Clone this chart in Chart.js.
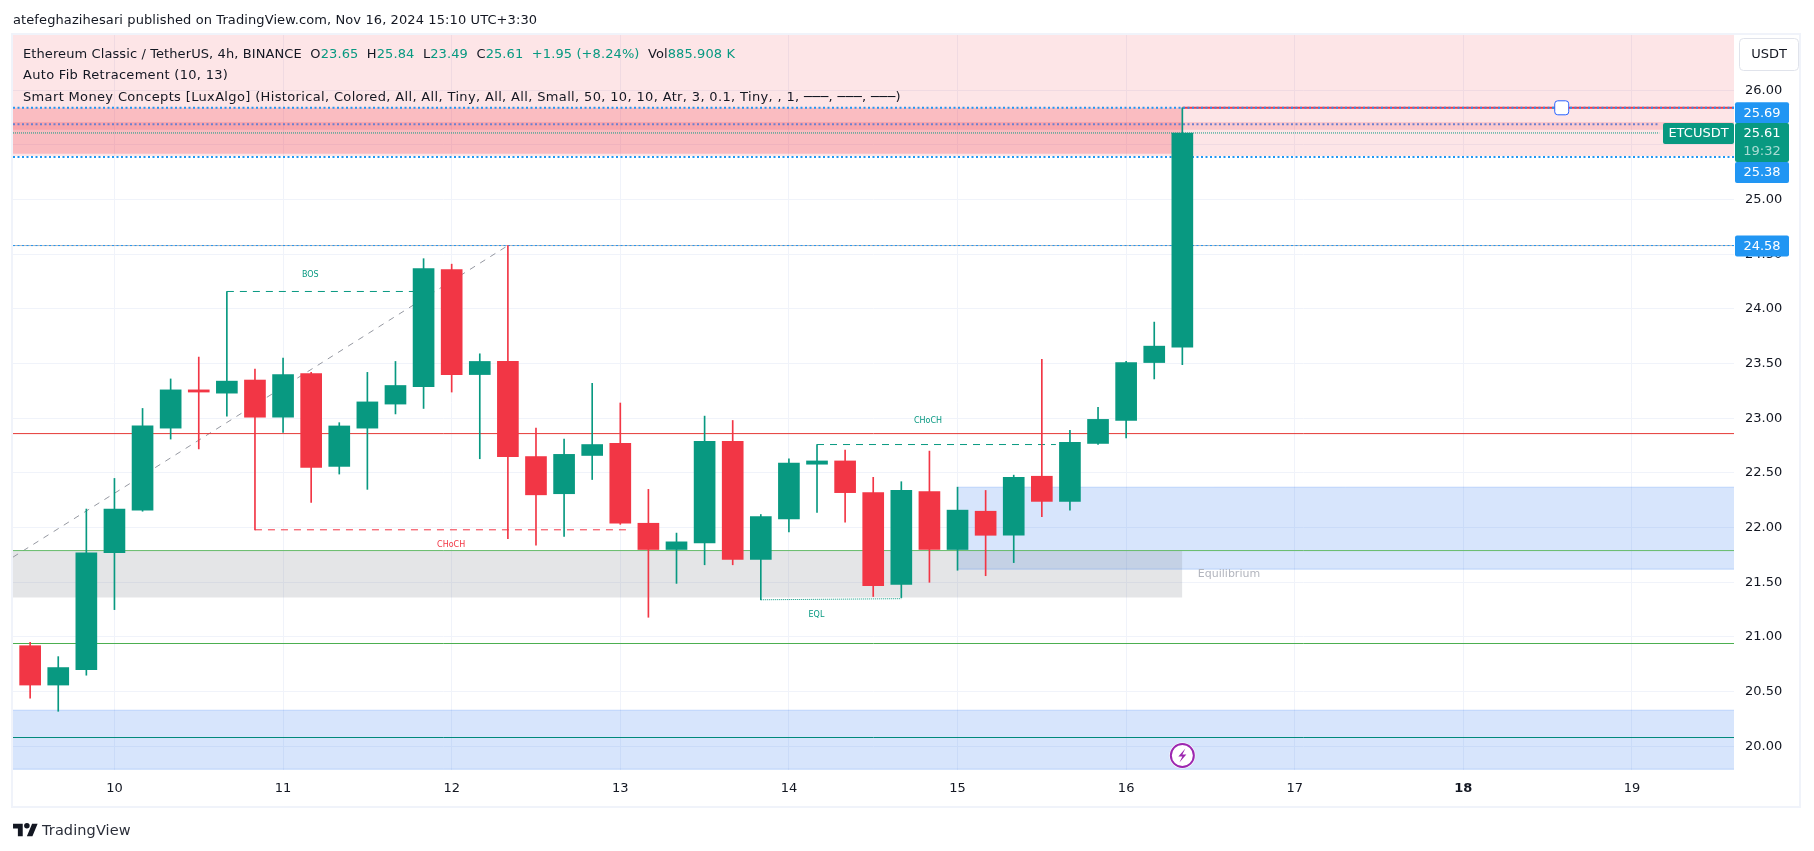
<!DOCTYPE html>
<html>
<head>
<meta charset="utf-8">
<title>ETCUSDT 4h</title>
<script src="https://cdn.jsdelivr.net/npm/chart.js@4/dist/chart.umd.min.js"></script>
<style>
  html, body { margin: 0; background: #fff; }
  #wrap { position: relative; width: 1814px; height: 851px; overflow: hidden; font-family: "DejaVu Sans", sans-serif; color: #131722; }
  #wrap canvas { position: absolute; left: 0; top: 0; }
  .txt { position: absolute; white-space: pre; font-size: 13px; line-height: 18px; letter-spacing: 0.1px; }
  .up { color: #089981; }
  #logo { position: absolute; left: 13px; top: 821px; }
</style>
</head>
<body>
<div id="wrap">
  <canvas id="c" width="1814" height="851"></canvas>
  <div class="txt" style="left:13px;top:11px">atefeghazihesari published on TradingView.com, Nov 16, 2024 15:10 UTC+3:30</div>
  <div class="txt" style="left:23px;top:45px">Ethereum Classic / TetherUS, 4h, BINANCE  O<span class="up">23.65</span>  H<span class="up">25.84</span>  L<span class="up">23.49</span>  C<span class="up">25.61</span>  <span class="up">+1.95 (+8.24%)</span>  Vol<span class="up">885.908 K</span></div>
  <div class="txt" style="left:23px;top:66px;letter-spacing:0.3px">Auto Fib Retracement (10, 13)</div>
  <div class="txt" style="left:23px;top:88px;letter-spacing:0.35px">Smart Money Concepts [LuxAlgo] (Historical, Colored, All, All, Tiny, All, All, Small, 50, 10, 10, Atr, 3, 0.1, Tiny, , 1, ───, ───, ───)</div>
  <svg id="logo" width="25" height="18" viewBox="0 0 36 26"><path fill="#131722" d="M14 22H7V11H0V4h14v18zM28 22h-8l7.5-18h8L28 22z"/><circle fill="#131722" cx="20" cy="7" r="4"/></svg>
  <div class="txt" style="left:42px;top:820px;font-size:14.5px;line-height:20px;color:#2a2e39">TradingView</div>
</div>
<script>
// 4h candles
const opens  = [20.92,20.56,20.70,21.77,22.16,22.91,23.26,23.23,23.35,23.01,23.41,22.56,22.91,23.13,23.29,24.36,23.40,23.52,22.65,22.31,22.66,22.77,22.04,21.80,21.86,22.79,21.71,22.08,22.58,22.61,22.32,21.48,22.33,21.80,22.15,21.93,22.47,22.24,22.77,22.98,23.51,23.65];
const highs  = [20.95,20.82,22.17,22.45,23.09,23.36,23.56,24.16,23.45,23.55,23.42,22.96,23.42,23.52,24.46,24.41,23.59,24.58,22.91,22.81,23.32,23.14,22.35,21.95,23.02,22.98,22.12,22.63,22.76,22.71,22.46,22.42,22.70,22.37,22.34,22.48,23.54,22.89,23.10,23.52,23.88,25.84];
const lows   = [20.44,20.32,20.65,21.25,22.15,22.81,22.72,23.02,21.98,22.87,22.23,22.49,22.35,23.04,23.09,23.24,22.63,21.90,21.84,21.92,22.44,22.03,21.18,21.49,21.66,21.66,21.34,21.96,22.14,22.05,21.37,21.36,21.50,21.61,21.56,21.68,22.10,22.16,22.76,22.82,23.36,23.49];
const closes = [20.56,20.72,21.77,22.17,22.93,23.26,23.24,23.34,23.01,23.40,22.55,22.93,23.15,23.30,24.37,23.40,23.52,22.65,22.30,22.67,22.76,22.04,21.80,21.87,22.79,21.71,22.10,22.59,22.61,22.32,21.47,22.34,21.80,22.16,21.93,22.46,22.24,22.78,22.99,23.51,23.66,25.61];

const dayLabels = ['10','11','12','13','14','15','16','17','18','19'];
const dayTicks  = [3,9,15,21,27,33,39,45,51,57];
const boldDay   = 51;
const priceTicks = [20,20.5,21,21.5,22,22.5,23,23.5,24,24.5,25,25.5,26];

// axis window, in candle index and price
const xRange = [-0.61, 60.63];
const yRange = [19.783, 26.506];

// levels and zones
const lastBar = 41, tagStart = 57.97;
const hiLine = 25.84, fib69 = 25.69, lastClose = 25.61, fib38 = 25.39, fib58 = 24.58;
const redLevel = 22.86, greenLevelA = 21.79, greenLevelB = 20.94, tealLevel = 20.08;
const supplyZone = [26.506, 25.40];
const premiumBox = [25.84, 25.42];
const thinBand = [25.71, 25.64];
const equilBox = [21.79, 21.36];
const demandBox = [22.37, 21.62];
const demandStart = 33;
const lowerBand = [20.33, 19.79];
const fibX = [-0.61, 17], fibY = [21.73, 24.58];
const bosX = [7, 14.4], bosY = 24.16;
const chochRedX = [8, 21.4], chochRedY = 21.98;
const chochGreenX = [28, 36.5], chochGreenY = 22.76;
const eqlX = [26, 31], eqlY = [21.34, 21.35];

const priceTags = ['25.69','25.38','24.58'];

const UP = '#089981', DOWN = '#f23645', BLUE = '#2196f3';
const FONT = '"DejaVu Sans", sans-serif';

function seg(xs, ys, color, width, dash, order) {
  return { type: 'line', data: xs.map((x, i) => ({ x: x, y: ys[i] })), borderColor: color, borderWidth: width,
    borderDash: dash || [], pointRadius: 0, fill: false, order: order || 5 };
}
function hline(y, color, width, dash, x0, x1) {
  return seg([x0 === undefined ? xRange[0] : x0, x1 === undefined ? xRange[1] : x1], [y, y], color, width, dash);
}
function zone(band, color, x0, x1, edge) {
  const xs = [x0 === undefined ? xRange[0] : x0, x1 === undefined ? xRange[1] : x1];
  const out = [{ type: 'line', data: xs.map(x => ({ x: x, y: band[0] })), fill: { value: band[1] }, backgroundColor: color,
    borderWidth: 0, pointRadius: 0, order: 10 }];
  if (edge) {
    out.push(seg(xs, [band[0], band[0]], edge, 1, null, 9));
    out.push(seg(xs, [band[1], band[1]], edge, 1, null, 9));
  }
  return out;
}

const colors = closes.map((c, i) => c >= opens[i] ? UP : DOWN);
const ZONE_BLUE = 'rgba(33,110,240,0.18)', ZONE_RED = 'rgba(242,54,69,0.13)', ZONE_EDGE = 'rgba(33,110,240,0.22)';
const DOTS = [2, 2.5];

// same order: the earlier dataset ends up on top
const datasets = [
  ...zone(supplyZone, ZONE_RED),
  ...zone(premiumBox, 'rgba(242,54,69,0.23)', xRange[0], lastBar),
  ...zone(thinBand, 'rgba(242,54,69,0.16)'),
  ...zone(equilBox, 'rgba(120,123,134,0.2)', xRange[0], lastBar),
  ...zone(demandBox, ZONE_BLUE, demandStart, xRange[1], ZONE_EDGE),
  ...zone(lowerBand, ZONE_BLUE, xRange[0], xRange[1], ZONE_EDGE),
  hline(redLevel, '#e53935', 1),
  hline(greenLevelA, '#66bb6a', 1),
  hline(greenLevelB, '#4caf50', 1),
  hline(tealLevel, '#00897b', 1),
  hline(fib58, BLUE, 1, DOTS),
  hline(fib58, 'rgba(120,123,134,0.55)', 1),
  hline(hiLine, BLUE, 2, DOTS),
  hline(hiLine, DOWN, 2, null, lastBar),
  hline(fib69, '#6a7fd0', 2, DOTS, xRange[0], tagStart),
  hline(lastClose, UP, 1, [1, 1], xRange[0], tagStart),
  hline(fib38, BLUE, 2, DOTS),
  seg(fibX, fibY, '#9598a1', 1, [6, 6]),
  seg(bosX, [bosY, bosY], UP, 1, [7, 6]),
  seg(chochRedX, [chochRedY, chochRedY], DOWN, 1, [7, 6]),
  seg(chochGreenX, [chochGreenY, chochGreenY], UP, 1, [7, 6]),
  seg(eqlX, eqlY, UP, 1, [1, 1]),
  { type: 'bar', data: highs.map((h, i) => ({ x: i, y: [lows[i], h] })), backgroundColor: colors, barThickness: 1, grouped: false, order: 2 },
  { type: 'bar', data: opens.map((o, i) => ({ x: i, y: [o, closes[i]] })), backgroundColor: colors, barThickness: 21, grouped: false, order: 1 }
];

function tag(ctx, text, x, y, w, h, bg, color) {
  ctx.fillStyle = bg;
  ctx.beginPath();
  ctx.roundRect(x, y, w, h, 2);
  ctx.fill();
  ctx.fillStyle = color || '#fff';
  ctx.textAlign = 'center';
  ctx.textBaseline = 'middle';
  ctx.fillText(text, x + w / 2, y + h / 2 + 0.5);
}

// small texts that sit on the indicator drawings
const notesPlugin = {
  id: 'notes',
  afterDatasetsDraw(chart) {
    const { ctx, scales: { x, y } } = chart;
    ctx.save();
    ctx.textAlign = 'center';
    ctx.textBaseline = 'middle';
    ctx.font = '8px ' + FONT;
    ctx.fillStyle = UP;
    ctx.fillText('BOS', x.getPixelForValue(9.97), y.getPixelForValue(24.31));
    ctx.fillText('CHoCH', x.getPixelForValue(31.95), y.getPixelForValue(22.98));
    ctx.fillText('EQL', x.getPixelForValue(27.98), y.getPixelForValue(21.20));
    ctx.fillStyle = DOWN;
    ctx.fillText('CHoCH', x.getPixelForValue(14.98), y.getPixelForValue(21.84));
    ctx.fillStyle = '#b2b5be';
    ctx.font = '11px ' + FONT;
    ctx.textAlign = 'left';
    ctx.fillText('Equilibrium', x.getPixelForValue(41.55), y.getPixelForValue(21.57));

    // handle on the high line
    const hx = x.getPixelForValue(54.5), hy = y.getPixelForValue(hiLine);
    ctx.fillStyle = '#fff';
    ctx.strokeStyle = '#2962ff';
    ctx.lineWidth = 1;
    ctx.beginPath();
    ctx.roundRect(hx - 7, hy - 7, 14, 14, 3);
    ctx.fill();
    ctx.stroke();

    // lightning marker under the last bar
    const mx = x.getPixelForValue(lastBar), my = 755.5;
    ctx.fillStyle = '#fff';
    ctx.beginPath();
    ctx.arc(mx, my, 13, 0, Math.PI * 2);
    ctx.fill();
    ctx.strokeStyle = '#9c27b0';
    ctx.lineWidth = 2;
    ctx.beginPath();
    ctx.arc(mx, my, 11.5, 0, Math.PI * 2);
    ctx.stroke();
    ctx.fillStyle = '#9c27b0';
    ctx.beginPath();
    ctx.moveTo(mx + 3, my - 7);
    ctx.lineTo(mx - 4, my + 1);
    ctx.lineTo(mx, my + 1);
    ctx.lineTo(mx - 3, my + 7);
    ctx.lineTo(mx + 4, my - 1);
    ctx.lineTo(mx, my - 1);
    ctx.closePath();
    ctx.fill();
    ctx.restore();
  },
  afterDraw(chart) {
    const { ctx, chartArea: a, scales: { y } } = chart;
    ctx.save();
    // frame round the chart
    ctx.strokeStyle = '#f0f3fa';
    ctx.lineWidth = 2;
    ctx.strokeRect(a.left - 1, a.top - 1, 1801 - a.left, 807 - a.top + 1);

    ctx.font = '13px ' + FONT;
    const tagX = a.right + 1, tagW = 54, tagH = 21;
    tag(ctx, priceTags[0], tagX, y.getPixelForValue(fib69) - 22, tagW, tagH, BLUE);
    tag(ctx, priceTags[1], tagX, y.getPixelForValue(fib38) + 5, tagW, tagH, BLUE);
    tag(ctx, priceTags[2], tagX, y.getPixelForValue(fib58) - 10, tagW, tagH, BLUE);

    // last price box, price plus countdown
    const ly = y.getPixelForValue(lastClose);
    tag(ctx, 'ETCUSDT', 1663, ly - 10, 71, 21, UP);
    ctx.fillStyle = UP;
    ctx.beginPath();
    ctx.roundRect(tagX, ly - 10, tagW, 39, 2);
    ctx.fill();
    ctx.textAlign = 'center';
    ctx.textBaseline = 'middle';
    ctx.fillStyle = '#fff';
    ctx.fillText('25.61', tagX + tagW / 2, ly + 0.5);
    ctx.fillStyle = 'rgba(255,255,255,0.65)';
    ctx.fillText('19:32', tagX + tagW / 2, ly + 19);

    // currency button
    ctx.fillStyle = '#fff';
    ctx.strokeStyle = '#e0e3eb';
    ctx.lineWidth = 1;
    ctx.beginPath();
    ctx.roundRect(1739.5, 38.5, 59, 32, 4);
    ctx.fill();
    ctx.stroke();
    ctx.fillStyle = '#131722';
    ctx.fillText('USDT', 1769, 55);
    ctx.restore();
  }
};

new Chart(document.getElementById('c'), {
  type: 'bar',
  data: { datasets: datasets },
  plugins: [notesPlugin],
  options: {
    responsive: false,
    animation: false,
    layout: { padding: { left: 13, top: 35, right: 15, bottom: 44 } },
    plugins: { legend: { display: false }, tooltip: { enabled: false } },
    scales: {
      x: {
        type: 'linear', min: xRange[0], max: xRange[1], offset: false,
        afterBuildTicks: s => { s.ticks = dayTicks.map(v => ({ value: v })); },
        afterFit: s => { s.height = 37; },
        grid: { color: '#f0f3fa', drawTicks: false, offset: false },
        border: { display: false },
        ticks: {
          autoSkip: false, maxRotation: 0, padding: 11, color: '#131722',
          font: ctx => ({ family: FONT, size: 13, weight: ctx.tick && ctx.tick.value === boldDay ? 'bold' : 'normal' }),
          callback: v => dayLabels[dayTicks.indexOf(v)]
        }
      },
      y: {
        type: 'linear', position: 'right', min: yRange[0], max: yRange[1],
        afterBuildTicks: s => { s.ticks = priceTicks.map(v => ({ value: v })); },
        afterFit: s => { s.width = 65; },
        grid: { color: '#f0f3fa', drawTicks: false },
        border: { display: false },
        ticks: { padding: 11, color: '#131722', font: { family: FONT, size: 13 }, callback: v => v.toFixed(2) }
      }
    }
  }
});
</script>
</body>
</html>
